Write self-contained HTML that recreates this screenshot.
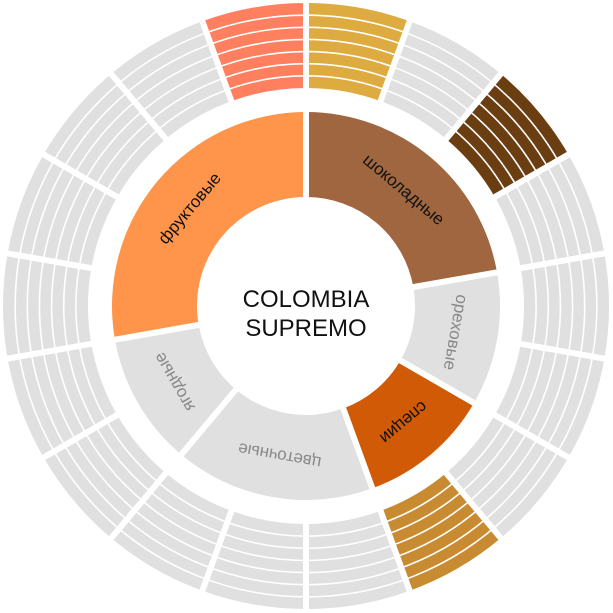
<!DOCTYPE html>
<html><head><meta charset="utf-8"><style>
html,body{margin:0;padding:0;background:#fff;width:613px;height:613px;overflow:hidden}
svg{display:block}
text{font-family:"Liberation Sans","DejaVu Sans",sans-serif}
</style></head><body>
<svg id="s" width="613" height="613" viewBox="0 0 613 613">
<g id="shapes"></g>
<g font-size="17" text-anchor="middle" dominant-baseline="central">
<text transform="translate(306,306) rotate(40) translate(0,-152)" fill="#111">шоколадные</text>
<text transform="translate(306,306) rotate(100) translate(0,-152)" fill="#888">ореховые</text>
<text transform="translate(306,306) rotate(140) translate(0,-152)" fill="#111">специи</text>
<text transform="translate(306,306) rotate(190) translate(0,-152)" fill="#888">цветочные</text>
<text transform="translate(306,306) rotate(240) translate(0,-152)" fill="#888">ягодные</text>
<text transform="translate(306,306) rotate(310) translate(0,-152)" fill="#111">фруктовые</text>
</g>
<text x="306" y="307" font-size="24" text-anchor="middle" fill="#111">COLOMBIA</text>
<text x="306" y="336" font-size="24" text-anchor="middle" fill="#111">SUPREMO</text>
</svg>
<script>
var cx=306,cy=306,g=document.getElementById('shapes'),NS='http://www.w3.org/2000/svg';
function pt(r,a){a=a*Math.PI/180;return [cx+r*Math.sin(a),cy-r*Math.cos(a)];}
function sector(r0,r1,a0,a1,fill){
 var p1=pt(r1,a0),p2=pt(r1,a1),p3=pt(r0,a1),p4=pt(r0,a0),l=(a1-a0)>180?1:0;
 var d='M'+p1+'A'+r1+','+r1+' 0 '+l+' 1 '+p2+'L'+p3+'A'+r0+','+r0+' 0 '+l+' 0 '+p4+'Z';
 var e=document.createElementNS(NS,'path');e.setAttribute('d',d);e.setAttribute('fill',fill);g.appendChild(e);}
function line(r0,r1,a,w){var p=pt(r0,a),q=pt(r1,a);var e=document.createElementNS(NS,'line');
 e.setAttribute('x1',p[0]);e.setAttribute('y1',p[1]);e.setAttribute('x2',q[0]);e.setAttribute('y2',q[1]);
 e.setAttribute('stroke','#fff');e.setAttribute('stroke-width',w);g.appendChild(e);}
function circ(r,w){var e=document.createElementNS(NS,'circle');e.setAttribute('cx',cx);e.setAttribute('cy',cy);e.setAttribute('r',r);
 e.setAttribute('fill','none');e.setAttribute('stroke','#fff');e.setAttribute('stroke-width',w);g.appendChild(e);}
var inner=[[0,80,'#A0663F'],[80,120,'#E0E0E0'],[120,160,'#D15A06'],[160,220,'#E0E0E0'],[220,260,'#E0E0E0'],[260,360,'#FE954A']];
inner.forEach(function(s){sector(109,194,s[0],s[1],s[2]);});
inner.forEach(function(s){line(100,200,s[0],6);});
var col={0:'#DEAB40',2:'#6B3E12',7:'#C98B31',17:'#FF7F5F'};
for(var i=0;i<18;i++){sector(218,303,i*20,i*20+20,col[i]||'#E0E0E0');}
for(var k=1;k<7;k++){circ(218+k*85/7,1.6);}
for(var i=0;i<18;i++){line(212,310,i*20,6);}
</script>
</body></html>
